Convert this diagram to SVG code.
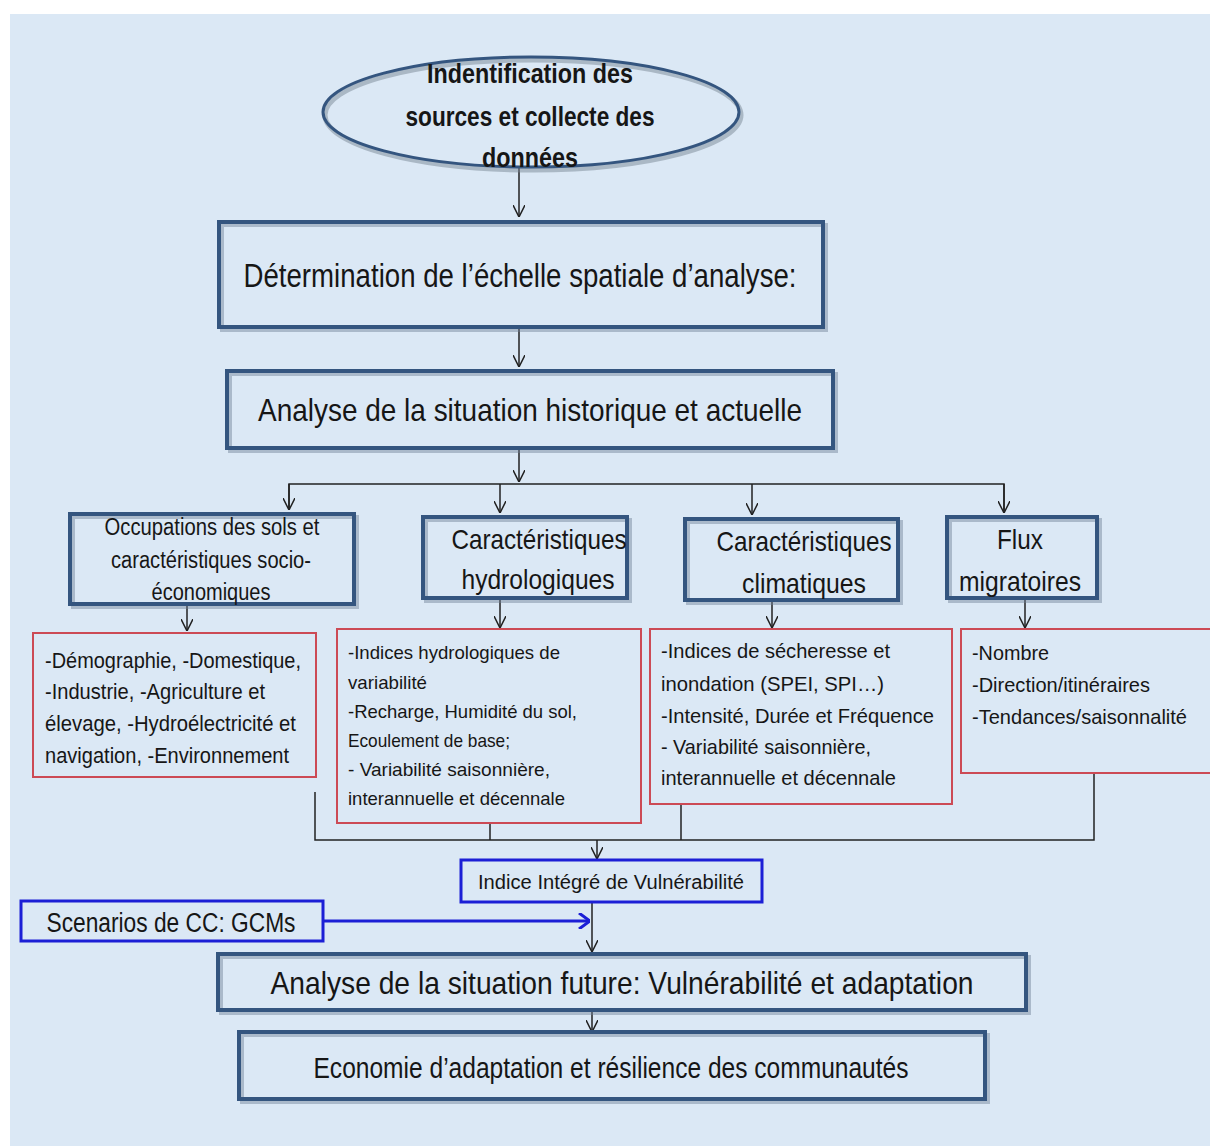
<svg xmlns="http://www.w3.org/2000/svg" width="1210" height="1146" viewBox="0 0 1210 1146">
<defs>
<style>
.bg{fill:#dbe8f5}
.bx{fill:none;stroke:#34557f;stroke-width:4}
.sh{fill:none;stroke:#6f8197;stroke-width:4;opacity:.45}
.rb{fill:none;stroke:#cc4a55;stroke-width:2}
.bb{fill:none;stroke:#1c1fd6;stroke-width:3}
.c{fill:none;stroke:#222;stroke-width:1.5}
.t{font-family:"Liberation Sans",Arial,sans-serif;fill:#161616}
.h{font-family:"Liberation Sans",Arial,sans-serif;fill:#161616;text-anchor:middle}
</style>
<marker id="v" viewBox="0 0 12 12" refX="12" refY="6" markerWidth="12" markerHeight="12" markerUnits="userSpaceOnUse" orient="auto">
<path d="M0,0 L12,6 L0,12" fill="none" stroke="#222" stroke-width="1.5"/>
</marker>
<marker id="vb" viewBox="0 0 12 16" refX="12" refY="8" markerWidth="12" markerHeight="16" markerUnits="userSpaceOnUse" orient="auto">
<path d="M1,0 L12,8 L1,16" fill="none" stroke="#1c1fd6" stroke-width="3"/>
</marker>
</defs>
<rect x="0" y="0" width="1210" height="1146" fill="#ffffff"/>
<rect class="bg" x="10" y="14" width="1200" height="1132"/>

<g id="connectors">
<line class="c" x1="519" y1="167" x2="519" y2="217" marker-end="url(#v)"/>
<line class="c" x1="519" y1="329" x2="519" y2="367" marker-end="url(#v)"/>
<line class="c" x1="519" y1="450" x2="519" y2="482" marker-end="url(#v)"/>
<polyline class="c" points="289,508 289,484 1004,484 1004,512"/>
<line class="c" x1="289" y1="484" x2="289" y2="510" marker-end="url(#v)"/>
<line class="c" x1="500" y1="484" x2="500" y2="513" marker-end="url(#v)"/>
<line class="c" x1="752" y1="484" x2="752" y2="515" marker-end="url(#v)"/>
<line class="c" x1="1004" y1="484" x2="1004" y2="513" marker-end="url(#v)"/>
<line class="c" x1="187" y1="606" x2="187" y2="631" marker-end="url(#v)"/>
<line class="c" x1="500" y1="600" x2="500" y2="628" marker-end="url(#v)"/>
<line class="c" x1="772" y1="602" x2="772" y2="628" marker-end="url(#v)"/>
<line class="c" x1="1025" y1="600" x2="1025" y2="628" marker-end="url(#v)"/>
<polyline class="c" points="315,792 315,840 1094,840 1094,773"/>
<line class="c" x1="490" y1="824" x2="490" y2="840"/>
<line class="c" x1="681" y1="805" x2="681" y2="840"/>
<line class="c" x1="597" y1="840" x2="597" y2="859" marker-end="url(#v)"/>
<line class="c" x1="592" y1="903" x2="592" y2="952" marker-end="url(#v)"/>
<line x1="324" y1="921" x2="590" y2="921" stroke="#1c1fd6" stroke-width="3" marker-end="url(#vb)"/>
<line class="c" x1="592" y1="1012" x2="592" y2="1032" marker-end="url(#v)"/>
</g>

<g id="n-ellipse">
<ellipse cx="531" cy="112" rx="208" ry="55" fill="none" stroke="#7a8796" stroke-width="5" opacity=".5" transform="translate(2,3)"/>
<ellipse cx="531" cy="112" rx="208" ry="55" fill="none" stroke="#34557f" stroke-width="3"/>
<text class="h" font-weight="bold" font-size="27" x="530" y="83" textLength="206" lengthAdjust="spacingAndGlyphs">Indentification des</text>
<text class="h" font-weight="bold" font-size="27" x="530" y="126" textLength="249" lengthAdjust="spacingAndGlyphs">sources et collecte des</text>
<text class="h" font-weight="bold" font-size="27" x="530" y="167" textLength="96" lengthAdjust="spacingAndGlyphs">données</text>
</g>

<g id="n-echelle">
<rect class="sh" x="222" y="225" width="604" height="105"/>
<rect class="bx" x="219" y="222" width="604" height="105"/>
<text class="h" font-size="33" x="520" y="287" textLength="553" lengthAdjust="spacingAndGlyphs">Détermination de l’échelle spatiale d’analyse:</text>
</g>

<g id="n-historique">
<rect class="sh" x="230" y="374" width="606" height="77"/>
<rect class="bx" x="227" y="371" width="606" height="77"/>
<text class="h" font-size="32" x="530" y="421" textLength="544" lengthAdjust="spacingAndGlyphs">Analyse de la situation historique et actuelle</text>
</g>

<g id="n-occupations">
<rect class="sh" x="73" y="517" width="284" height="90"/>
<rect class="bx" x="70" y="514" width="284" height="90"/>
<text class="h" font-size="23" x="212" y="535" textLength="215" lengthAdjust="spacingAndGlyphs">Occupations des sols et</text>
<text class="h" font-size="23" x="211" y="568" textLength="200" lengthAdjust="spacingAndGlyphs">caractéristiques socio-</text>
<text class="h" font-size="23" x="211" y="600" textLength="119" lengthAdjust="spacingAndGlyphs">économiques</text>
</g>

<g id="n-hydro">
<rect class="sh" x="426" y="520" width="204" height="81"/>
<rect class="bx" x="423" y="517" width="204" height="81"/>
<text class="h" font-size="28" x="539" y="549" textLength="175" lengthAdjust="spacingAndGlyphs">Caractéristiques</text>
<text class="h" font-size="28" x="538" y="589" textLength="153" lengthAdjust="spacingAndGlyphs">hydrologiques</text>
</g>

<g id="n-clim">
<rect class="sh" x="688" y="522" width="213" height="81"/>
<rect class="bx" x="685" y="519" width="213" height="81"/>
<text class="h" font-size="28" x="804" y="551" textLength="175" lengthAdjust="spacingAndGlyphs">Caractéristiques</text>
<text class="h" font-size="28" x="804" y="593" textLength="124" lengthAdjust="spacingAndGlyphs">climatiques</text>
</g>

<g id="n-flux">
<rect class="sh" x="950" y="520" width="150" height="81"/>
<rect class="bx" x="947" y="517" width="150" height="81"/>
<text class="h" font-size="28" x="1020" y="549" textLength="46" lengthAdjust="spacingAndGlyphs">Flux</text>
<text class="h" font-size="28" x="1020" y="591" textLength="122" lengthAdjust="spacingAndGlyphs">migratoires</text>
</g>

<g id="n-r1">
<rect class="rb" x="33" y="633" width="283" height="144"/>
<text class="t" font-size="22" x="45" y="668" textLength="256" lengthAdjust="spacingAndGlyphs">-Démographie, -Domestique,</text>
<text class="t" font-size="22" x="45" y="699" textLength="220" lengthAdjust="spacingAndGlyphs">-Industrie, -Agriculture et</text>
<text class="t" font-size="22" x="45" y="731" textLength="251" lengthAdjust="spacingAndGlyphs">élevage, -Hydroélectricité et</text>
<text class="t" font-size="22" x="45" y="763" textLength="244" lengthAdjust="spacingAndGlyphs">navigation, -Environnement</text>
</g>

<g id="n-r2">
<rect class="rb" x="337" y="629" width="304" height="194"/>
<text class="t" font-size="19" x="348" y="659" textLength="212" lengthAdjust="spacingAndGlyphs">-Indices hydrologiques de</text>
<text class="t" font-size="19" x="348" y="689" textLength="79" lengthAdjust="spacingAndGlyphs">variabilité</text>
<text class="t" font-size="19" x="348" y="718" textLength="229" lengthAdjust="spacingAndGlyphs">-Recharge, Humidité du sol,</text>
<text class="t" font-size="19" x="348" y="747" textLength="162" lengthAdjust="spacingAndGlyphs">Ecoulement de base;</text>
<text class="t" font-size="19" x="348" y="776" textLength="202" lengthAdjust="spacingAndGlyphs">- Variabilité saisonnière,</text>
<text class="t" font-size="19" x="348" y="805" textLength="217" lengthAdjust="spacingAndGlyphs">interannuelle et décennale</text>
</g>

<g id="n-r3">
<rect class="rb" x="650" y="629" width="302" height="175"/>
<text class="t" font-size="21" x="661" y="658" textLength="229" lengthAdjust="spacingAndGlyphs">-Indices de sécheresse et</text>
<text class="t" font-size="21" x="661" y="691" textLength="223" lengthAdjust="spacingAndGlyphs">inondation (SPEI, SPI…)</text>
<text class="t" font-size="21" x="661" y="723" textLength="273" lengthAdjust="spacingAndGlyphs">-Intensité, Durée et Fréquence</text>
<text class="t" font-size="21" x="661" y="754" textLength="210" lengthAdjust="spacingAndGlyphs">- Variabilité saisonnière,</text>
<text class="t" font-size="21" x="661" y="785" textLength="235" lengthAdjust="spacingAndGlyphs">interannuelle et décennale</text>
</g>

<g id="n-r4">
<rect class="rb" x="961" y="629" width="260" height="144"/>
<text class="t" font-size="21" x="972" y="660" textLength="77" lengthAdjust="spacingAndGlyphs">-Nombre</text>
<text class="t" font-size="21" x="972" y="692" textLength="178" lengthAdjust="spacingAndGlyphs">-Direction/itinéraires</text>
<text class="t" font-size="21" x="972" y="724" textLength="215" lengthAdjust="spacingAndGlyphs">-Tendances/saisonnalité</text>
</g>

<g id="n-indice">
<rect class="bb" x="461" y="860" width="301" height="42"/>
<text class="h" font-size="20" x="611" y="889" textLength="266" lengthAdjust="spacingAndGlyphs">Indice Intégré de Vulnérabilité</text>
</g>

<g id="n-scenarios">
<rect class="bb" x="21" y="901" width="302" height="40"/>
<text class="h" font-size="27" x="171" y="932" textLength="249" lengthAdjust="spacingAndGlyphs">Scenarios de CC: GCMs</text>
</g>

<g id="n-future">
<rect class="sh" x="221" y="957" width="808" height="56"/>
<rect class="bx" x="218" y="954" width="808" height="56"/>
<text class="h" font-size="32" x="622" y="994" textLength="703" lengthAdjust="spacingAndGlyphs">Analyse de la situation future: Vulnérabilité et adaptation</text>
</g>

<g id="n-economie">
<rect class="sh" x="242" y="1035" width="746" height="67"/>
<rect class="bx" x="239" y="1032" width="746" height="67"/>
<text class="h" font-size="29" x="611" y="1078" textLength="595" lengthAdjust="spacingAndGlyphs">Economie d’adaptation et résilience des communautés</text>
</g>
</svg>
